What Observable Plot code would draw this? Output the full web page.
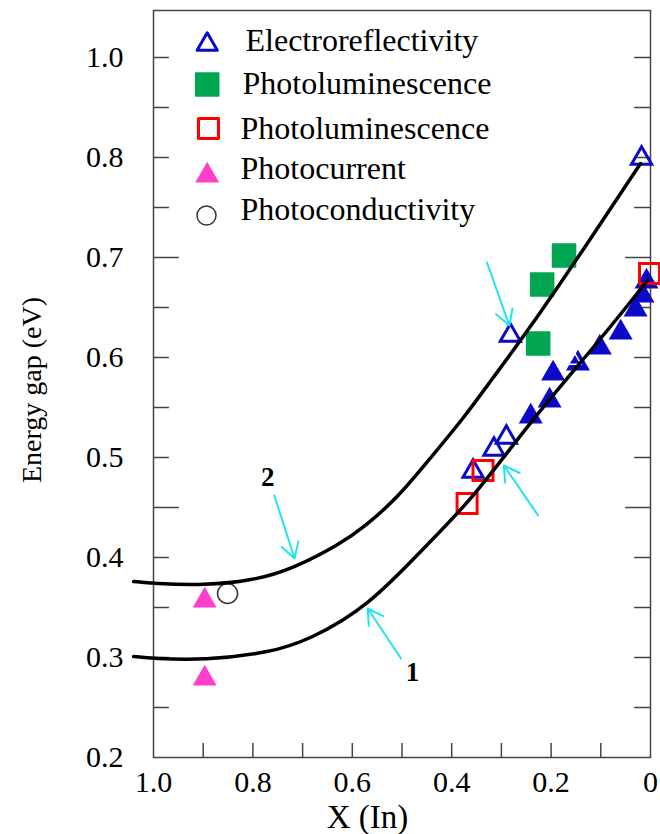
<!DOCTYPE html>
<html>
<head>
<meta charset="utf-8">
<script src="https://cdn.jsdelivr.net/npm/d3@7"></script>
<script src="https://cdn.jsdelivr.net/npm/@observablehq/plot@0.6"></script>
<style>
  html, body { margin: 0; padding: 0; background: white; }
  #chart { width: 660px; height: 834px; }
</style>
</head>
<body>
<div id="chart"></div>
<script>
// ---- Data ----
// Theoretical curves (X = In fraction, Y = energy gap eV)
const curve1X = [1.04, 1.0, 0.90, 0.764, 0.69, 0.569, 0.442, 0.361, 0.24, 0.099, 0.006];
const curve1Y = [0.301, 0.299, 0.297, 0.305, 0.317, 0.350, 0.417, 0.457, 0.537, 0.619, 0.677];
const curve2X = [1.04, 1.0, 0.899, 0.798, 0.718, 0.623, 0.577, 0.508, 0.442, 0.375, 0.321, 0.246, 0.139, 0.020];
const curve2Y = [0.376, 0.374, 0.372, 0.377, 0.389, 0.414, 0.430, 0.460, 0.500, 0.540, 0.577, 0.627, 0.705, 0.794];

// Electroreflectivity (open blue triangles)
const erOpenX = [0.018, 0.282, 0.290, 0.315, 0.357];
const erOpenY = [0.799, 0.622, 0.520, 0.508, 0.486];
// Electroreflectivity (filled blue triangles)
const erFilledX = [0.008, 0.016, 0.030, 0.060, 0.102, 0.146, 0.196, 0.203, 0.241];
const erFilledY = [0.676, 0.662, 0.648, 0.625, 0.610, 0.594, 0.584, 0.557, 0.541];
// overlapping open triangle drawn over a filled one
const erOverlapX = [0.156];
const erOverlapY = [0.598];
// Photoluminescence (filled green squares)
const plGreenX = [0.174, 0.218, 0.226];
const plGreenY = [0.702, 0.673, 0.614];
// Photoluminescence (open red squares)
const plRedX = [0.002, 0.337, 0.369];
const plRedY = [0.684, 0.487, 0.454];
// Photocurrent (filled magenta triangles)
const pcX = [0.897, 0.897];
const pcY = [0.357, 0.279];
// Photoconductivity (open circle)
const pcondX = [0.851];
const pcondY = [0.364];

// Annotation arrows (from -> to)
const arrowX1 = [0.329, 0.226, 0.757, 0.502];
const arrowY1 = [0.695, 0.442, 0.462, 0.299];
const arrowX2 = [0.284, 0.295, 0.716, 0.569];
const arrowY2 = [0.632, 0.492, 0.399, 0.349];

// Curve labels
const curveLabels = ["2", "1"];
const curveLabelX = [0.770, 0.479];
const curveLabelY = [0.480, 0.285];

// Legend
const legendLabels = ["Electroreflectivity", "Photoluminescence", "Photoluminescence", "Photocurrent", "Photoconductivity"];

// Axis ticks and labels
const xTickValues = [1.0, 0.8, 0.6, 0.4, 0.2, 0];
const xTickLabels = ["1.0", "0.8", "0.6", "0.4", "0.2", "0"];
const xTickMarks = [0.9, 0.8, 0.7, 0.6, 0.5, 0.4, 0.3, 0.2, 0.1];
const yTickValues = [0.2, 0.3, 0.4, 0.5, 0.6, 0.7, 0.8, 0.9];
const yTickLabels = ["0.2", "0.3", "0.4", "0.5", "0.6", "0.7", "0.8", "1.0"];
const yTickMarks = [0.25, 0.3, 0.35, 0.4, 0.5, 0.55, 0.6, 0.65, 0.75, 0.8, 0.85, 0.9];
const yTickMarksLong = [0.45, 0.7];

const xy = (X, Y) => X.map((x, i) => ({x, y: Y[i]}));

const FONT = "Liberation Serif, Times New Roman, serif";
const BLUE = "#0a0ac8";
const GREEN = "#00a651";
const RED = "#ff0000";
const PINK = "#ff3fcc";
const CYAN = "#22e3f0";

const legendStyles = [
  {symbol: "triangle", fill: "none", stroke: BLUE, r: 7.5, sw: 3, sdx: 53.7, sdy: 34, tdx: 92, tdy: 30.4},
  {symbol: "square", fill: GREEN, stroke: GREEN, r: 13, sw: 1.5, sdx: 53.7, sdy: 74, tdx: 89, tdy: 73.7},
  {symbol: "square", fill: "none", stroke: RED, r: 11.3, sw: 3, sdx: 55, sdy: 118, tdx: 87, tdy: 118.7},
  {symbol: "triangle", fill: PINK, stroke: "none", r: 8.9, sw: 0, sdx: 53.7, sdy: 165, tdx: 87, tdy: 158},
  {symbol: "circle", fill: "none", stroke: "#333", r: 9.5, sw: 1.5, sdx: 53, sdy: 205, tdx: 87, tdy: 199.5}
];

const legendMarks = legendLabels.flatMap((label, i) => {
  const s = legendStyles[i];
  return [
    Plot.dot([label], {frameAnchor: "top-left", dx: s.sdx, dy: s.sdy, symbol: s.symbol,
      fill: s.fill, stroke: s.stroke, strokeWidth: s.sw, r: s.r, strokeLinejoin: "round"}),
    Plot.text([label], {frameAnchor: "top-left", dx: s.tdx, dy: s.tdy, text: d => d,
      textAnchor: "start", lineAnchor: "middle", fontSize: 32, fill: "black"})
  ];
});

const chart = Plot.plot({
  width: 660,
  height: 834,
  marginLeft: 153,
  marginRight: 10,
  marginTop: 10,
  marginBottom: 77,
  x: {domain: [1, 0], axis: null},
  y: {domain: [0.2, 0.947], axis: null},
  style: {fontFamily: FONT, background: "white", overflow: "visible"},
  marks: [
    // ticks (inward)
    Plot.ruleX(xTickMarks, {x: d => d, y1: 0.2, y2: 0.214, stroke: "#444", strokeWidth: 1.5}),
    Plot.ruleY(yTickMarks, {y: d => d, x1: 1, x2: 1 - 0.032, stroke: "#444", strokeWidth: 1.5}),
    Plot.ruleY(yTickMarksLong, {y: d => d, x1: 1, x2: 1 - 0.052, stroke: "#444", strokeWidth: 1.5}),
    Plot.ruleY(yTickMarks, {y: d => d, x1: 0, x2: 0.032, stroke: "#444", strokeWidth: 1.5}),
    Plot.ruleY(yTickMarksLong, {y: d => d, x1: 0, x2: 0.05, stroke: "#444", strokeWidth: 1.5}),
    Plot.frame({stroke: "#444", strokeWidth: 1.5}),
    // tick labels
    Plot.text(xTickValues, {x: d => d, frameAnchor: "bottom", dy: 25, lineAnchor: "middle", text: (d, i) => xTickLabels[i], fontSize: 30, fill: "black"}),
    Plot.text(yTickValues, {y: d => d, frameAnchor: "left", dx: -30, textAnchor: "end", lineAnchor: "middle", text: (d, i) => yTickLabels[i], fontSize: 30, fill: "black"}),
    // axis titles
    Plot.text(["X (In)"], {frameAnchor: "bottom", dx: -34.5, dy: 60, lineAnchor: "middle", textAnchor: "middle", text: d => d, fontSize: 33, fill: "black"}),
    Plot.text(["Energy gap (eV)"], {frameAnchor: "left", dx: -121, dy: 6, rotate: -90, textAnchor: "middle", lineAnchor: "middle", text: d => d, fontSize: 28, fill: "black"}),
    // data points
    Plot.dot(xy(plGreenX, plGreenY), {x: "x", y: "y", symbol: "square", r: 13, fill: GREEN, stroke: GREEN, strokeWidth: 1.5, strokeLinejoin: "round"}),
    Plot.dot(xy(erFilledX, erFilledY), {x: "x", y: "y", symbol: "triangle", r: 8.9, fill: BLUE}),
    Plot.dot(xy(erOverlapX, erOverlapY), {x: "x", y: "y", symbol: "triangle", r: 6, fill: "none", stroke: "white", strokeWidth: 1.5}),
    Plot.dot(xy(erOpenX, erOpenY), {x: "x", y: "y", symbol: "triangle", r: 7.5, fill: "none", stroke: BLUE, strokeWidth: 3}),
    Plot.dot(xy(plRedX, plRedY), {x: "x", y: "y", symbol: "square", r: 11.3, fill: "none", stroke: RED, strokeWidth: 3}),
    Plot.dot(xy(pcX, pcY), {x: "x", y: "y", symbol: "triangle", r: 8.9, fill: PINK}),
    Plot.dot(xy(pcondX, pcondY), {x: "x", y: "y", symbol: "circle", r: 10, fill: "none", stroke: "#333", strokeWidth: 1.5}),
    // curves
    Plot.line(xy(curve1X, curve1Y), {x: "x", y: "y", curve: "basis", stroke: "black", strokeWidth: 3.5}),
    Plot.line(xy(curve2X, curve2Y), {x: "x", y: "y", curve: "basis", stroke: "black", strokeWidth: 3.5}),
    // arrows
    Plot.arrow(arrowX1.map((x, i) => ({x1: x, y1: arrowY1[i], x2: arrowX2[i], y2: arrowY2[i]})),
      {x1: "x1", y1: "y1", x2: "x2", y2: "y2", stroke: CYAN, strokeWidth: 2, headLength: 13}),
    // curve labels
    Plot.text(curveLabels, {x: (d, i) => curveLabelX[i], y: (d, i) => curveLabelY[i], text: d => d, fontSize: 27, fontWeight: "bold", fill: "black"}),
    ...legendMarks
  ]
});

document.getElementById("chart").appendChild(chart);
</script>
</body>
</html>
